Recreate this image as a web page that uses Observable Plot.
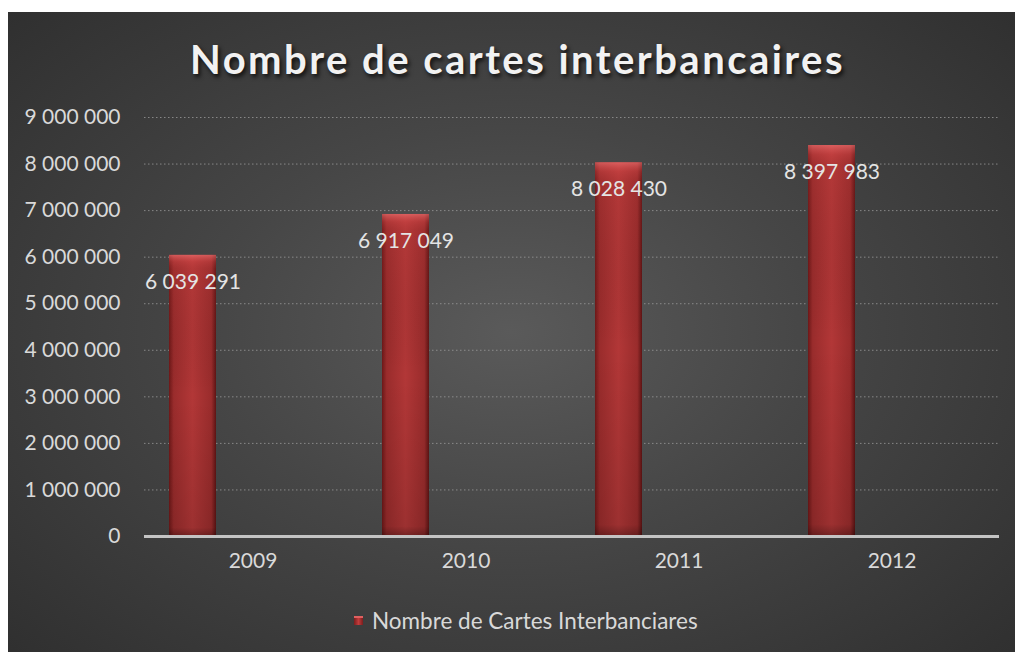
<!DOCTYPE html>
<html>
<head>
<meta charset="utf-8">
<script src="https://cdn.jsdelivr.net/npm/d3@7"></script>
<script src="https://cdn.jsdelivr.net/npm/@observablehq/plot@0.6"></script>
<style>
  html, body { margin: 0; padding: 0; background: #ffffff; }
  #frame {
    position: absolute; left: 8px; top: 12px; width: 1007px; height: 640px; overflow: hidden;
    background: radial-gradient(ellipse 75% 80% at 50% 50%, #5a5a5a 0%, #464646 40%, #2c2c2c 100%);
    font-family: Lato, "Open Sans", sans-serif;
  }
  #title {
    position: absolute; top: 27px; left: 182px; white-space: nowrap;
    font-family: Lato, "Open Sans", sans-serif; font-weight: bold; font-size: 40px; line-height: 1;
    color: #f2f2f2; text-shadow: 2px 3px 4px rgba(0,0,0,0.75);
  }
  #chart { position: absolute; left: 0; top: 83px; }
  #legend {
    position: absolute; left: 346px; top: 596px; height: 24px; display: flex; align-items: center;
    font-size: 22.5px; color: #d9d9d9; white-space: nowrap;
  }
  #legend .sw {
    width: 9px; height: 9px; margin-right: 9px;
    background: linear-gradient(90deg, #7a1e1e 0%, #c23c3c 50%, #7a1e1e 100%);
    box-shadow: inset 0 2px 0 #e06060;
  }
</style>
</head>
<body>
<div id="frame">
  <div id="title">Nombre de cartes interbancaires</div>
  <div id="chart"></div>
  <div id="legend"><span class="sw"></span><span>Nombre de Cartes Interbanciares</span></div>
</div>
<script>
const years = ["2009", "2010", "2011", "2012"];
const cartes = [6039291, 6917049, 8028430, 8397983];
const yTicks = [0, 1000000, 2000000, 3000000, 4000000, 5000000, 6000000, 7000000, 8000000, 9000000];
const seriesName = "Nombre de Cartes Interbanciares";

const table = years.map((y, i) => ({annee: y, valeur: cartes[i]}));
const fr = d3.formatLocale({decimal: ",", thousands: " ", grouping: [3], currency: ["", ""]});
const fmt = fr.format(",d");

const chart = Plot.plot({
  width: 1007,
  height: 495,
  marginLeft: 136,
  marginRight: 16,
  marginTop: 22,
  marginBottom: 54,
  style: {background: "transparent", fontFamily: "Lato, 'Open Sans', sans-serif", overflow: "visible"},
  x: {domain: years, padding: 0, axis: null, label: null},
  y: {domain: [0, 9000000], axis: null, label: null},
  marks: [
    Plot.gridY(yTicks.slice(1), {stroke: "#9a9a9a", strokeOpacity: 0.8, strokeWidth: 1, strokeDasharray: "1.5,2.5"}),
    Plot.barY(table, {x: "annee", y: "valeur", fill: "url(#barGrad)", insetLeft: 23, insetRight: 143, ariaLabel: "bars"}),
    Plot.barY(table, {x: "annee", y: "valeur", fill: "url(#barShade)", insetLeft: 23, insetRight: 143, ariaLabel: "shade"}),
    Plot.ruleY([0], {stroke: "#c4c4c4", strokeWidth: 3}),
    Plot.axisX({tickSize: 0, tickPadding: 17, fontSize: 21, fill: "#d9d9d9", stroke: null, label: null}),
    Plot.axisY(yTicks, {tickSize: 0, tickPadding: 24, fontSize: 21, fill: "#d9d9d9", tickFormat: fmt, label: null}),
    Plot.text(table, {x: "annee", y: "valeur", text: d => fmt(d.valeur), dx: -60, dy: 27, fontSize: 21, fill: "#e4e4e4"})
  ]
});

// gradient definitions for the bevelled bars
const ns = "http://www.w3.org/2000/svg";
const defs = document.createElementNS(ns, "defs");
defs.innerHTML = `
  <linearGradient id="barGrad" x1="0" y1="0" x2="1" y2="0">
    <stop offset="0" stop-color="#6e1818"/>
    <stop offset="0.1" stop-color="#9a2c2c"/>
    <stop offset="0.5" stop-color="#b23737"/>
    <stop offset="0.9" stop-color="#9a2c2c"/>
    <stop offset="1" stop-color="#5e1414"/>
  </linearGradient>
  <linearGradient id="barShade" x1="0" y1="0" x2="0" y2="1">
    <stop offset="0" stop-color="#ff8080" stop-opacity="0.55"/>
    <stop offset="0.025" stop-color="#e05050" stop-opacity="0.3"/>
    <stop offset="0.05" stop-color="#c04040" stop-opacity="0.15"/>
    <stop offset="0.5" stop-color="#000000" stop-opacity="0"/>
    <stop offset="0.97" stop-color="#000000" stop-opacity="0.12"/>
    <stop offset="1" stop-color="#000000" stop-opacity="0.35"/>
  </linearGradient>`;
chart.insertBefore(defs, chart.firstChild);
const barsG = chart.querySelector('g[aria-label="bars"]');
if (barsG) barsG.style.filter = "drop-shadow(2px 2px 3px rgba(0,0,0,0.6))";
document.getElementById("chart").appendChild(chart);

// fit title width to the reference (about 655px wide)
const title = document.getElementById("title");
const natural = title.getBoundingClientRect().width;
const n = title.textContent.length;
const spacing = (655 - natural) / n;
title.style.letterSpacing = spacing + "px";
</script>
</body>
</html>
